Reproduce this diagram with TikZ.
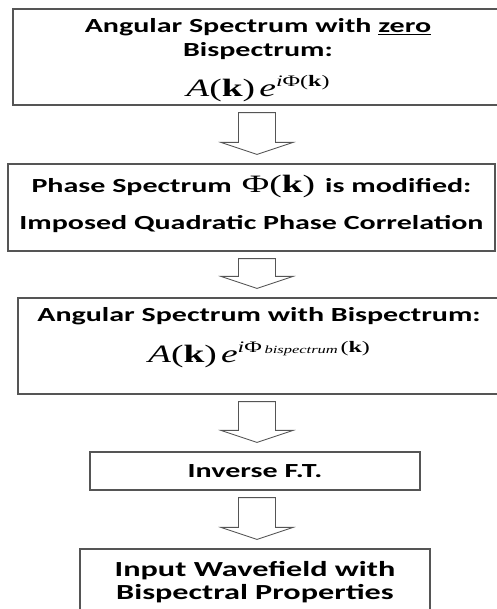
\documentclass[tikz,border=0pt]{standalone}
\usepackage{fontspec}
\setmainfont[FakeStretch=1.5]{Carlito}
\newfontfamily\formfont[FakeStretch=1.5]{Liberation Serif}
\usetikzlibrary{calc}
\definecolor{linecol}{HTML}{555555}

\newcommand{\ampl}{{\itshape A}(\textbf{k})\,{\itshape e}}
\newcommand{\phik}{Φ(\textbf{k})}
\newcommand{\arrowx}{257}

\begin{document}
\begin{tikzpicture}[
  x=1pt, y=-1pt,
  every node/.style={font=\fontsize{20}{24}\selectfont\bfseries},
  flowbox/.style={
    rectangle, draw=linecol, line width=1.2pt, fill=white,
    align=center, inner sep=0pt
  },
  blockarrow/.style={draw=linecol, line width=0.9pt, fill=white, line join=miter}
]
\useasboundingbox (0,0) rectangle (496,609);

%% ─── Boxes ───────────────────────────────────────────────────────────────────
\node[flowbox, minimum width=490pt, minimum height=96pt] (zero) at (258,57)
  {\rule{0pt}{20pt}Angular Spectrum with \underline{zero}\\ Bispectrum:\\[15pt]
   {\formfont\fontsize{25}{28}\selectfont\mdseries\ampl\raisebox{10pt}{\fontsize{16}{18}\selectfont{\itshape i}\phik}}};
\node[flowbox, minimum width=487pt, minimum height=87pt] (phase) at (251.5,207.5)
  {Phase Spectrum \,{\formfont\fontsize{25}{28}\selectfont\mdseries\phik}\, is modified:\\[13pt]
   Imposed Quadratic Phase Correlation\rule[-11pt]{0pt}{0pt}};
\node[flowbox, minimum width=482pt, minimum height=96pt] (bisp) at (259,346)
  {Angular Spectrum with Bispectrum:\\[16pt]
   {\formfont\fontsize{25}{28}\selectfont\mdseries\ampl\raisebox{10pt}{\fontsize{16}{18}\selectfont{\itshape i}Φ\,\raisebox{-1pt}{\fontsize{11}{12}\selectfont\itshape bispectrum}\,(\textbf{k})}}\rule[-22pt]{0pt}{0pt}};
\node[flowbox, minimum width=330pt, minimum height=38pt] (ift) at (255,471)
  {Inverse F.T.};
\node[flowbox, minimum width=350pt, minimum height=80pt,
      font=\fontsize{21.5}{23}\selectfont\bfseries] (wave) at (255,589)
  {Input Wavefield with\\ Bispectral Properties\rule[-17pt]{0pt}{0pt}};

%% ─── Hollow arrows ──────────────────────────────────────────────────────────
\foreach \from/\to in {zero/phase, phase/bisp, bisp/ift, ift/wave}
  \draw[blockarrow] let \p1=(\from.south), \p2=(\to.north) in
    (\arrowx-18.5,\y1-7) -- (\arrowx-18.5,\y2+21) -- (\arrowx-36,\y2+21)
    -- (\arrowx,\y2+9) -- (\arrowx+36,\y2+21) -- (\arrowx+18.5,\y2+21)
    -- (\arrowx+18.5,\y1-7) -- cycle;

\end{tikzpicture}
\end{document}
